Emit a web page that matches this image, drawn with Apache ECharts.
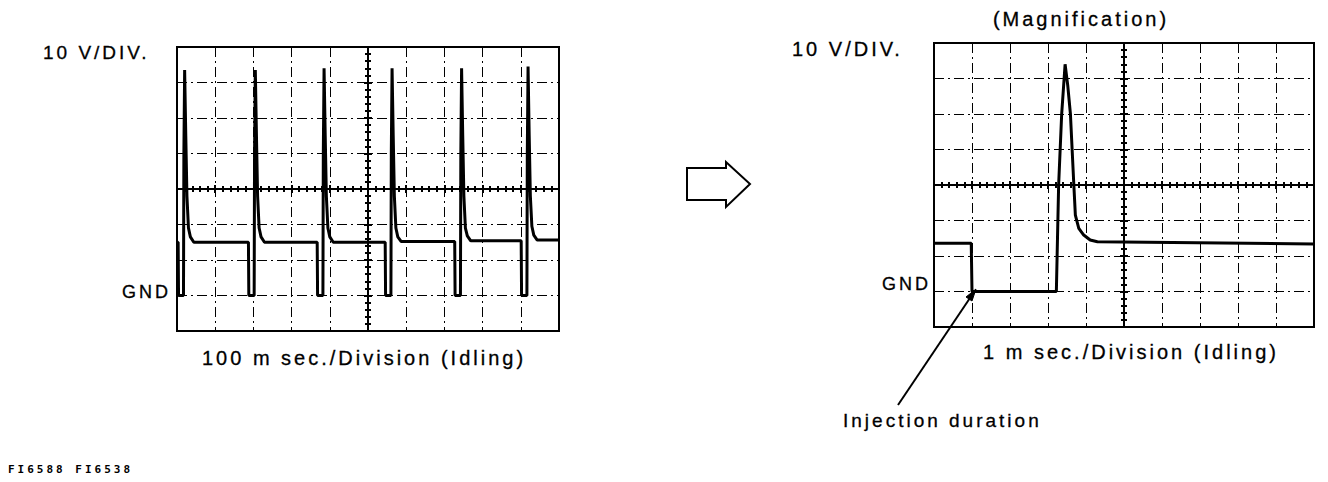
<!DOCTYPE html>
<html style="height: 100%">

<head>
	<meta charset="utf-8">
	<style>
		/* the scope labels are set with wide tracking */
		#container text { letter-spacing: 3px; }
	</style>
</head>

<body style="height: 100%; margin: 0; background: #fff">
	<div id="container" style="width: 1328px; height: 482px;"></div>

	<script type="text/javascript" src="https://cdn.jsdelivr.net/npm/echarts/dist/echarts.min.js"></script>
	<script type="text/javascript">
		// left scope: 100 ms / division, 10 V / division
		let leftTime = [0, 3, 4, 17, 18, 20, 23, 26, 30, 35, 44,
			187, 188, 202, 203, 205, 208, 211, 215, 220, 229,
			367, 368, 382, 383, 385, 388, 391, 395, 400, 409,
			545, 546, 560, 561, 563, 566, 569, 573, 578, 587,
			727, 728, 742, 743, 745, 748, 751, 755, 760, 769,
			901, 902, 916, 917, 919, 922, 925, 929, 934, 943, 1000];
		let leftVolt = [15, 15, 0, 0, 40, 63.5, 45, 28, 19, 16.5, 15,
			15, 0, 0, 40, 63.5, 45, 28, 19, 16.5, 15,
			15, 0, 0, 40, 64, 45, 28, 19, 16.5, 15,
			15, 0, 0, 40, 64, 45, 28, 19, 16.5, 15.2,
			15.2, 0, 0, 40, 64, 45, 28, 19, 16.8, 15.4,
			15.4, 0, 0, 40, 64.5, 45, 28, 19.5, 17, 15.6, 15.6];

		// right scope (magnification): 1 ms / division
		let rightTime = [0, 0.98, 1.0, 3.22, 3.28, 3.36, 3.45, 3.52, 3.59, 3.68, 3.72, 3.81, 3.94, 4.11, 4.3, 10];
		let rightVolt = [13.6, 13.6, 0, 0, 30, 50, 64, 58, 50, 30, 21.5, 17.8, 15.9, 14.5, 14, 13.4];

		let leftTimeRange = [0, 1000, 100];
		let rightTimeRange = [0, 10, 1];
		let voltRange = [-10, 70, 10];

		let dom = document.getElementById("container");
		let myChart = echarts.init(dom, null, { renderer: 'svg' });
		let option = null;

		const black = '#000';
		const gratDash = [10, 4, 2, 4];

		function zip(xs, ys) {
			return xs.map((x, i) => [x, ys[i]]);
		}

		function mainAxis(gridIndex, range) {
			return {
				type: 'value',
				gridIndex: gridIndex,
				min: range[0],
				max: range[1],
				interval: range[2],
				axisLine: { show: false, onZero: false },
				axisTick: { show: false },
				axisLabel: { show: false },
				splitLine: { show: true, lineStyle: { color: black, width: 1, type: gratDash } }
			};
		}

		// centre line of the graticule, with small ticks every 1/5 division
		function centreAxis(gridIndex, range, position, offset, inside) {
			return {
				type: 'value',
				gridIndex: gridIndex,
				min: range[0],
				max: range[1],
				interval: range[2],
				position: position,
				offset: offset,
				axisLine: { show: true, onZero: false, lineStyle: { color: black, width: 2 } },
				axisTick: { show: true, inside: inside, length: 4, lineStyle: { color: black, width: 2 } },
				minorTick: { show: true, splitNumber: 5, length: 3, lineStyle: { color: black, width: 2 } },
				axisLabel: { show: false },
				splitLine: { show: false }
			};
		}

		function label(text, x, y, size, align) {
			return {
				type: 'text',
				x: x,
				y: y,
				style: {
					text: text,
					fill: black,
					stroke: black,
					lineWidth: 0.3,
					font: size + 'px "Liberation Sans", Arial, sans-serif',
					textAlign: align,
					textVerticalAlign: 'middle'
				}
			};
		}

		function setOption() {
			option = {
				animation: false,
				backgroundColor: '#fff',
				grid: [
					{ left: 177, top: 47, width: 382, height: 284, show: true, borderColor: black, borderWidth: 2, outerBoundsMode: 'none' },
					{ left: 934, top: 43, width: 380, height: 284, show: true, borderColor: black, borderWidth: 2, outerBoundsMode: 'none' }
				],
				xAxis: [
					mainAxis(0, leftTimeRange),
					mainAxis(1, rightTimeRange),
					centreAxis(0, leftTimeRange, 'bottom', -142, true),
					centreAxis(0, leftTimeRange, 'bottom', -142, false),
					centreAxis(1, rightTimeRange, 'bottom', -142, true),
					centreAxis(1, rightTimeRange, 'bottom', -142, false)
				],
				yAxis: [
					mainAxis(0, voltRange),
					mainAxis(1, voltRange),
					centreAxis(0, voltRange, 'left', -191, true),
					centreAxis(0, voltRange, 'left', -191, false),
					centreAxis(1, voltRange, 'left', -190, true),
					centreAxis(1, voltRange, 'left', -190, false)
				],
				series: [
					{
						name: 'idling',
						type: 'line',
						xAxisIndex: 0,
						yAxisIndex: 0,
						data: zip(leftTime, leftVolt),
						showSymbol: false,
						silent: true,
						lineStyle: { color: black, width: 3 }
					},
					{
						name: 'magnification',
						type: 'line',
						xAxisIndex: 1,
						yAxisIndex: 1,
						data: zip(rightTime, rightVolt),
						showSymbol: false,
						silent: true,
						lineStyle: { color: black, width: 3 }
					}
				],
				graphic: [
					label('10 V/DIV.', 43, 52, 19, 'left'),
					label('GND', 171, 292, 18, 'right'),
					label('100 m sec./Division (Idling)', 364, 358, 20, 'center'),
					label('(Magnification)', 1081, 19, 20, 'center'),
					label('10 V/DIV.', 792, 49, 20, 'left'),
					label('GND', 931, 284, 18, 'right'),
					label('1 m sec./Division (Idling)', 1131, 352, 20, 'center'),
					label('Injection duration', 843, 420, 19, 'left'),
					{
						type: 'text',
						x: 8,
						y: 469,
						style: {
							text: 'FI6588 FI6538',
							fill: black,
							font: 'bold 11px "DejaVu Sans Mono", monospace',
							textVerticalAlign: 'middle'
						}
					},
					// hollow arrow between the two scopes
					{
						type: 'polygon',
						shape: { points: [[687, 168], [726, 168], [726, 162], [750, 184], [726, 207], [726, 200], [687, 200]] },
						style: { fill: '#fff', stroke: black, lineWidth: 2 }
					},
					// pointer to the injection duration
					{
						type: 'line',
						shape: { x1: 898, y1: 405, x2: 972, y2: 295 },
						style: { stroke: black, lineWidth: 2 }
					},
					{
						type: 'polygon',
						shape: { points: [[976, 289], [972, 301], [966, 297]] },
						style: { fill: black, stroke: black, lineWidth: 1 }
					}
				]
			};
		}

		setOption();

		if (option && typeof option === "object") {
			myChart.setOption(option, true);
		}
	</script>
</body>

</html>
